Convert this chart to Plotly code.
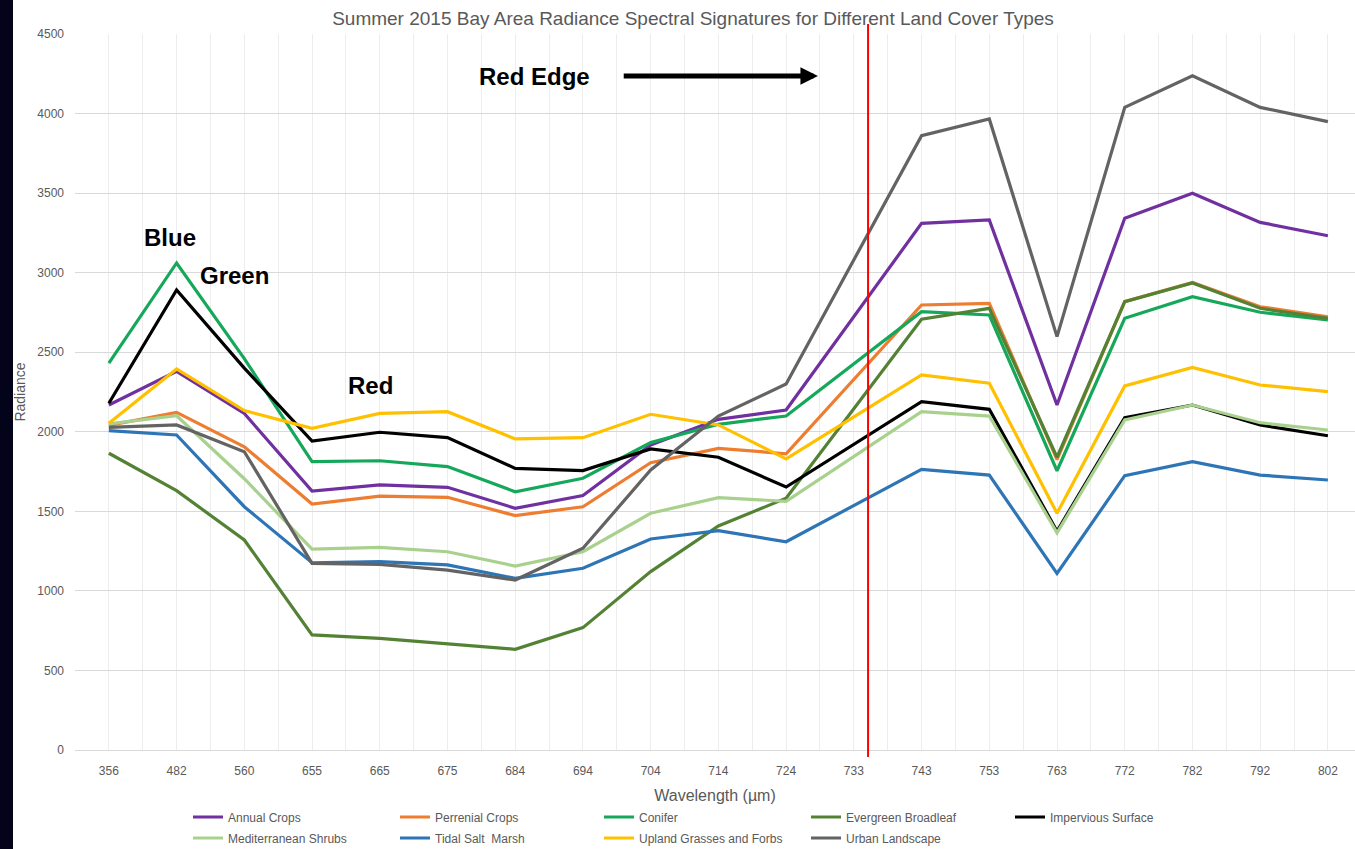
import plotly.graph_objects as go

categories = ["356", "482", "560", "655", "665", "675", "684", "694", "704", "714",
              "724", "733", "743", "753", "763", "772", "782", "792", "802"]

annual_crops = [2168, 2380, 2115, 1628, 1666, 1651, 1519, 1599, 1917, 2078, 2137, None,
                3310, 3331, 2168, 3342, 3499, 3316, 3232]
perennial_crops = [2040, 2122, 1906, 1546, 1596, 1588, 1473, 1529, 1806, 1896, 1862, None,
                   2797, 2807, 1825, 2818, 2939, 2786, 2723]
conifer = [2432, 3061, 2460, 1812, 1818, 1781, 1623, 1708, 1932, 2047, 2099, None,
           2755, 2734, 1755, 2713, 2849, 2751, 2703]
evergreen_broadleaf = [1865, 1630, 1320, 723, 702, 666, 633, 769, 1121, 1408, 1582, None,
                       2707, 2776, 1840, 2818, 2935, 2776, 2713]
impervious_surface = [2179, 2891, 2400, 1942, 1997, 1963, 1770, 1756, 1892, 1840, 1653, None,
                      2189, 2141, 1375, 2089, 2168, 2043, 1975]
mediterranean_shrubs = [2050, 2101, 1705, 1263, 1274, 1246, 1156, 1246, 1488, 1586, 1563, None,
                        2126, 2099, 1365, 2074, 2168, 2057, 2011]
tidal_salt_marsh = [2007, 1980, 1529, 1177, 1184, 1163, 1079, 1142, 1326, 1378, 1309, None,
                    1764, 1728, 1110, 1724, 1812, 1728, 1697]
upland_grasses = [2053, 2395, 2133, 2022, 2116, 2126, 1955, 1963, 2110, 2043, 1830, None,
                  2357, 2305, 1488, 2288, 2405, 2294, 2252]
urban_landscape = [2028, 2043, 1875, 1173, 1167, 1131, 1068, 1268, 1760, 2099, 2300, None,
                   3861, 3966, 2598, 4039, 4238, 4039, 3949]

series_names = ["Annual Crops", "Perrenial Crops", "Conifer", "Evergreen Broadleaf",
                "Impervious Surface", "Mediterranean Shrubs", "Tidal Salt  Marsh",
                "Upland Grasses and Forbs", "Urban Landscape"]
series_values = [annual_crops, perennial_crops, conifer, evergreen_broadleaf,
                 impervious_surface, mediterranean_shrubs, tidal_salt_marsh,
                 upland_grasses, urban_landscape]
series_colors = ["#7030A0", "#ED7D31", "#16A85A", "#548235", "#000000",
                 "#A9D18E", "#2E75B6", "#FFC000", "#636363"]

W, H = 1355, 849
ML, MR, MT, MB = 75, 0, 34, 99
PW = W - ML - MR
PH = H - MT - MB
FONT = "Liberation Sans, Arial, sans-serif"
GRAY = "#595959"


def px_to_paper_x(px):
    return (px - ML) / PW


def px_to_paper_y(py):
    return (H - MB - py) / PH


# legend grid: 5 columns, 2 rows (pixel layout of the legend block)
legend_cols_px = [188, 395, 599, 806, 1010]
legend_rows_px = [817, 838]

xpos = list(range(len(categories)))

fig = go.Figure()
layout_legends = {}
for i, (name, vals, color) in enumerate(zip(series_names, series_values, series_colors)):
    lg = "legend" if i == 0 else f"legend{i + 1}"
    fig.add_trace(go.Scatter(
        x=xpos, y=vals, name=name, mode="lines", connectgaps=True,
        line=dict(color=color, width=3.2), legend=lg,
    ))
    col, row = i % 5, i // 5
    layout_legends[lg] = dict(
        x=px_to_paper_x(legend_cols_px[col]), y=px_to_paper_y(legend_rows_px[row]),
        xanchor="left", yanchor="middle", orientation="v",
        font=dict(family=FONT, size=12, color=GRAY), bgcolor="rgba(0,0,0,0)",
        borderwidth=0, itemwidth=30,
    )

fig.update_layout(
    width=W, height=H,
    margin=dict(l=ML, r=MR, t=MT, b=MB, autoexpand=False),
    paper_bgcolor="white", plot_bgcolor="white",
    font=dict(family=FONT, color=GRAY),
    title=dict(
        text="Summer 2015 Bay Area Radiance Spectral Signatures for Different Land Cover Types",
        x=693 / W, xanchor="center", xref="container",
        y=1 - 18 / H, yanchor="middle", yref="container",
        font=dict(family=FONT, size=19, color=GRAY),
    ),
    xaxis=dict(
        range=[-0.5, 18.4], tickmode="array", tickvals=xpos, ticktext=categories,
        showgrid=True, gridcolor="#EDEDED", gridwidth=1, zeroline=False,
        showline=False, ticks="", ticklabelstandoff=12,
        tickfont=dict(family=FONT, size=12, color=GRAY),
        minor=dict(tickmode="linear", tick0=0.5, dtick=1, showgrid=True,
                   gridcolor="#EDEDED", gridwidth=1),
        title=dict(text="Wavelength (µm)", font=dict(family=FONT, size=16, color=GRAY),
                   standoff=12),
    ),
    yaxis=dict(
        range=[0, 4500], dtick=500, tick0=0, showgrid=True, gridcolor="#D9D9D9",
        gridwidth=1, zeroline=True, zerolinecolor="#D9D9D9", zerolinewidth=1,
        showline=False, ticks="", ticklabelstandoff=10,
        tickfont=dict(family=FONT, size=12, color=GRAY),
        title=dict(text="Radiance", font=dict(family=FONT, size=14, color=GRAY),
                   standoff=8),
    ),
    showlegend=True,
    **layout_legends,
)

# dark strip at far left
fig.add_shape(type="rect", xref="paper", yref="paper",
              x0=px_to_paper_x(0), x1=px_to_paper_x(13),
              y0=px_to_paper_y(H), y1=px_to_paper_y(0),
              fillcolor="#03031a", line=dict(width=0), layer="above")

# red marker line
fig.add_shape(type="line", xref="x", yref="paper",
              x0=11.21, x1=11.21, y0=px_to_paper_y(757), y1=px_to_paper_y(24),
              line=dict(color="#FF0000", width=2), layer="above")

ann_font = dict(family=FONT, size=24, color="black")
fig.add_annotation(x=0.90, y=3224, text="<b>Blue</b>", showarrow=False, font=ann_font)
fig.add_annotation(x=1.86, y=2985, text="<b>Green</b>", showarrow=False, font=ann_font)
fig.add_annotation(x=3.86, y=2288, text="<b>Red</b>", showarrow=False, font=ann_font)
fig.add_annotation(x=6.28, y=4236, text="<b>Red Edge</b>", showarrow=False, font=ann_font)
fig.add_annotation(x=10.47, y=4236, ax=7.58, ay=4236, axref="x", ayref="y",
                   text="", showarrow=True, arrowhead=2, arrowsize=0.7,
                   arrowwidth=5, arrowcolor="black")

fig.write_html("out.html")
